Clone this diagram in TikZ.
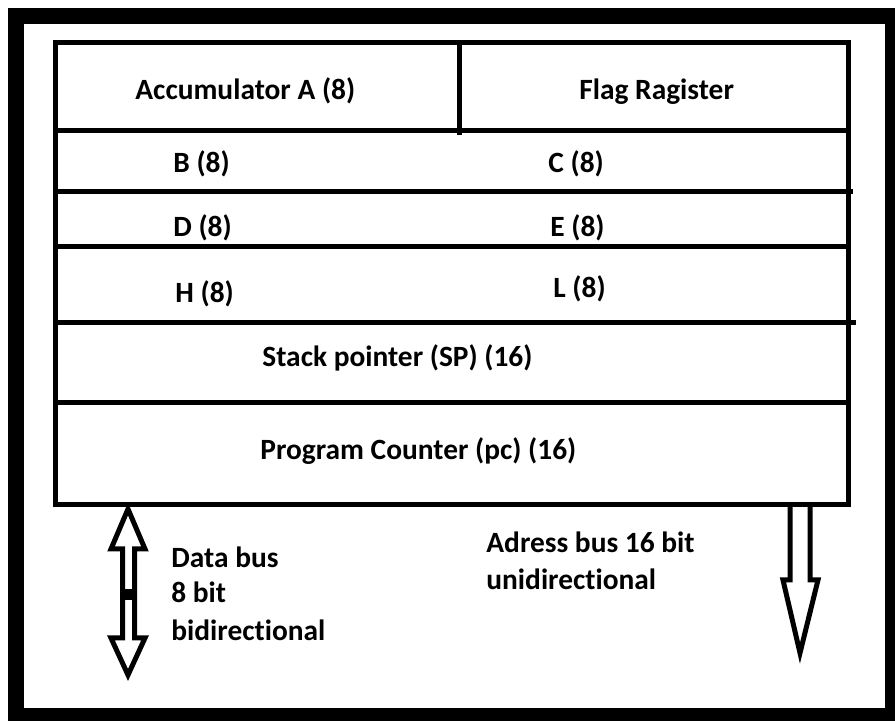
\documentclass[tikz,border=0pt]{standalone}
\usepackage{fontspec}
\setmainfont{Carlito}[Ligatures=NoCommon]

\tikzset{
  reg/.style={anchor=base west,inner sep=0pt,font=\fontsize{14.7}{17}\selectfont\bfseries},
  wall/.style={line width=2.5pt},
  bus/.style={line width=2.5pt,line join=miter}
}

\begin{document}
\begin{tikzpicture}[x=0.5pt,y=-0.5pt]
  \useasboundingbox (0,0) rectangle (895,721);
  \clip (0,0) rectangle (895,721);
  \draw[line width=8pt] (16,16) rectangle (893,716);

  % register table
  \coordinate (tl) at (55,42.5);
  \coordinate (br) at (848.5,505);
  \draw[wall] (tl) rectangle (br);
  \draw[wall] (459,42.5) -- (459,135);
  \draw[wall] (55,130.5) -- (848.5,130.5);
  \draw[wall] (55,192) -- (853,192);
  \draw[wall] (55,247) -- (848.5,247);
  \draw[wall] (55,323) -- (856,323);
  \draw[wall] (55,403) -- (848.5,403);

  \node[reg] (acc) at (135,100) {Accumulator A (8)};
  \node[reg] (flag) at (579,100) {Flag Ragister};
  \node[reg] (regb) at (173,173) {B (8)};
  \node[reg] (regc) at (548,173) {C (8)};
  \node[reg] (regd) at (173,237) {D (8)};
  \node[reg] (rege) at (550,237) {E (8)};
  \node[reg] (regh) at (175,303) {H (8)};
  \node[reg] (regl) at (553,298) {L (8)};
  \node[reg] (sp) at (262,367) {Stack pointer (SP) (16)};
  \node[reg] (pc) at (260,460) {Program Counter (pc) (16)};

  % data bus
  \coordinate (dtop) at (128,509);
  \coordinate (dbot) at (128,675);
  \draw[bus] (dtop) -- (145,549) -- (134.5,549) -- (134.5,638) -- (145,638)
    -- (dbot) -- (111,638) -- (122.5,638) -- (122.5,549) -- (111,549) -- cycle;
  \fill (122.5,589) rectangle (134.5,600);
  \node[reg] (data1) at (171,568) {Data bus};
  \node[reg] (data2) at (171,603) {8 bit};
  \node[reg] (data3) at (171,640) {bidirectional};

  % address bus
  \coordinate (atip) at (800,653);
  \draw[bus] (790,505) -- (790,580) -- (783,580) -- (atip) -- (818,580)
    -- (810,580) -- (810,505);
  \node[reg] (addr1) at (486,553) {Adress bus 16 bit};
  \node[reg] (addr2) at (486,589) {unidirectional};
\end{tikzpicture}
\end{document}
